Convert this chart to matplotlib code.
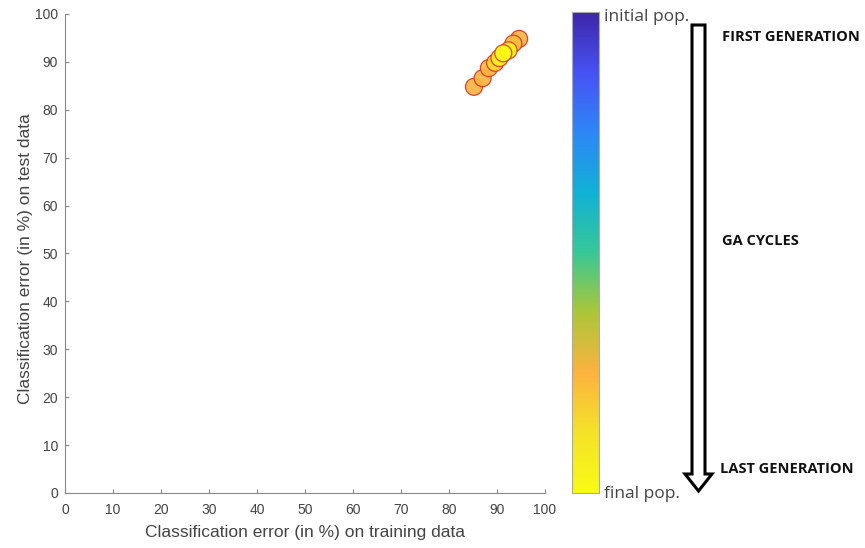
import matplotlib
matplotlib.use("Agg")
import matplotlib.pyplot as plt
import numpy as np
from matplotlib.colors import LinearSegmentedColormap
from matplotlib.patches import Polygon

# approximate parula colormap
parula_pts = [
    (0.2422, 0.1504, 0.6603),
    (0.2810, 0.3228, 0.9579),
    (0.1786, 0.5289, 0.9682),
    (0.0689, 0.6948, 0.8394),
    (0.2161, 0.7843, 0.5923),
    (0.6720, 0.7793, 0.2227),
    (0.9900, 0.7000, 0.2500),
    (0.9598, 0.8870, 0.1655),
    (0.9769, 0.9839, 0.0805),
]
parula = LinearSegmentedColormap.from_list("parula", parula_pts)

# data: training error, test error, generation progress (0 = initial, 1 = final)
train_err = [85.2, 87.0, 88.3, 94.6, 93.4, 89.6, 90.5, 92.4, 91.3]
test_err = [84.8, 86.6, 88.7, 94.8, 93.8, 89.8, 90.8, 92.4, 91.8]
progress = [0.75, 0.75, 0.76, 0.75, 0.78, 0.85, 0.95, 0.98, 1.0]

x_ticks = list(range(0, 101, 10))
y_ticks = list(range(0, 101, 10))

plt.rcParams['font.family'] = ['Liberation Sans', 'DejaVu Sans']
gray = '#444444'

fig = plt.figure(figsize=(8.65, 5.48), dpi=100)
ax = fig.add_axes([0.0751, 0.1004, 0.555, 0.8741])

ax.scatter(train_err, test_err, c=progress, cmap=parula, vmin=0, vmax=1,
           s=150, edgecolors='#e0301e', linewidths=0.9, alpha=0.9, zorder=3)

ax.set_xlim(0, 100)
ax.set_ylim(0, 100)
ax.set_xticks(x_ticks)
ax.set_yticks(y_ticks)
ax.tick_params(direction='in', length=3, colors='#888888', labelcolor=gray, labelsize=10)
ax.tick_params(axis='x', pad=7)
ax.tick_params(axis='y', pad=5)
for s in ['top', 'right']:
    ax.spines[s].set_visible(False)
for s in ['left', 'bottom']:
    ax.spines[s].set_color('#888888')
ax.set_xlabel('Classification error (in %) on training data', fontsize=12.5, color=gray, labelpad=6)
ax.set_ylabel('Classification error (in %) on test data', fontsize=12.5, color=gray)
ax.yaxis.set_label_coords(-0.066, 0.49)

# colorbar strip
cax = fig.add_axes([0.661, 0.1004, 0.0315, 0.877])
grad = np.linspace(0, 1, 256).reshape(-1, 1)
cax.imshow(grad, aspect='auto', cmap=parula, origin='upper')
cax.set_xticks([])
cax.set_yticks([])
for s in cax.spines.values():
    s.set_color('#aaaaaa')
    s.set_linewidth(0.8)

fig.text(0.698, 0.969, 'initial pop.', fontsize=12.5, color=gray, family='Open Sans', va='center')
fig.text(0.698, 0.098, 'final pop.', fontsize=12.5, color=gray, family='Open Sans', va='center')

# hollow down arrow
cx = 698.5 / 865
hw = 6.5 / 865
hh = 13.5 / 865
top = 1 - 25 / 548
neck = 1 - 474 / 548
tip = 1 - 491 / 548
arrow = Polygon([(cx - hw, top), (cx + hw, top), (cx + hw, neck), (cx + hh, neck),
                 (cx, tip), (cx - hh, neck), (cx - hw, neck)],
                closed=True, fill=False, edgecolor='black', linewidth=2.2,
                transform=fig.transFigure)
fig.patches.append(arrow)

fig.text(722 / 865, 1 - 37 / 548, 'FIRST GENERATION', fontsize=10.5, fontweight='bold',
         family='Open Sans', color='#111111', va='center')
fig.text(722 / 865, 1 - 241 / 548, 'GA CYCLES', fontsize=10.5, fontweight='bold',
         family='Open Sans', color='#111111', va='center')
fig.text(720 / 865, 1 - 469 / 548, 'LAST GENERATION', fontsize=10.5, fontweight='bold',
         family='Open Sans', color='#111111', va='center')

fig.savefig('out.png', dpi=100)
